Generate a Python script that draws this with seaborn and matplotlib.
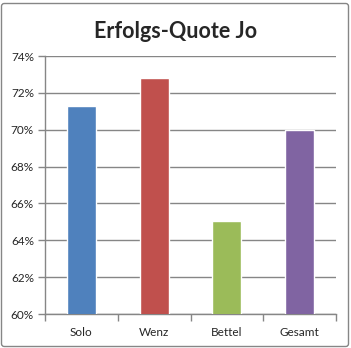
import matplotlib
matplotlib.use("Agg")
import matplotlib.pyplot as plt
import seaborn as sns
import pandas as pd
from matplotlib.patches import FancyBboxPatch
from matplotlib.ticker import FuncFormatter, FixedLocator

categories = ["Solo", "Wenz", "Bettel", "Gesamt"]
values = [71.3, 72.8, 65.05, 69.98]
colors = ["#4F81BD", "#C0504D", "#9BBB59", "#8064A2"]
yticks = [60, 62, 64, 66, 68, 70, 72, 74]
title = "Erfolgs-Quote Jo"

sns.set_style("white")
plt.rcParams['font.family'] = ['Lato', 'DejaVu Sans']

df = pd.DataFrame({"cat": categories, "val": values})

fig = plt.figure(figsize=(3.51, 3.48), dpi=100)
ax = fig.add_axes([45/351, (348-314)/348, (336-45)/351, (314-56)/348])

sns.barplot(data=df, x="cat", y="val", hue="cat", palette=colors, width=0.4,
            legend=False, ax=ax, saturation=1, zorder=3)

ax.set_ylim(60, 74)
ax.set_xlim(-0.5, 3.5)
ax.yaxis.set_major_locator(FixedLocator(yticks))
ax.yaxis.set_major_formatter(FuncFormatter(lambda v, p: f"{v:.0f}%"))
ax.grid(axis="y", color="#868686", linewidth=1, zorder=0)
ax.set_axisbelow(True)
ax.set_xlabel("")
ax.set_ylabel("")

for s in ["top", "right"]:
    ax.spines[s].set_visible(False)
for s in ["left", "bottom"]:
    ax.spines[s].set_color("#868686")
    ax.spines[s].set_linewidth(1)

ax.tick_params(axis="y", length=5, width=1, color="#868686", labelsize=8.5, pad=3, left=True)
ax.tick_params(axis="x", which="major", length=0, labelsize=8.5, pad=9)
ax.set_xticks([-0.5, 0.5, 1.5, 2.5, 3.5], minor=True)
ax.tick_params(axis="x", which="minor", length=5, width=1, color="#868686", bottom=True)

fig.text(0.5, 1 - 31/348, title, ha="center", va="center", fontsize=15.5, fontweight="bold")

border = FancyBboxPatch((1.5/351, 1.5/348), 347/351, 343/348,
                        boxstyle="round,pad=0,rounding_size=0.008",
                        transform=fig.transFigure, fill=False,
                        edgecolor="#868686", linewidth=1)
fig.patches.append(border)

fig.savefig("out.png", dpi=100)
